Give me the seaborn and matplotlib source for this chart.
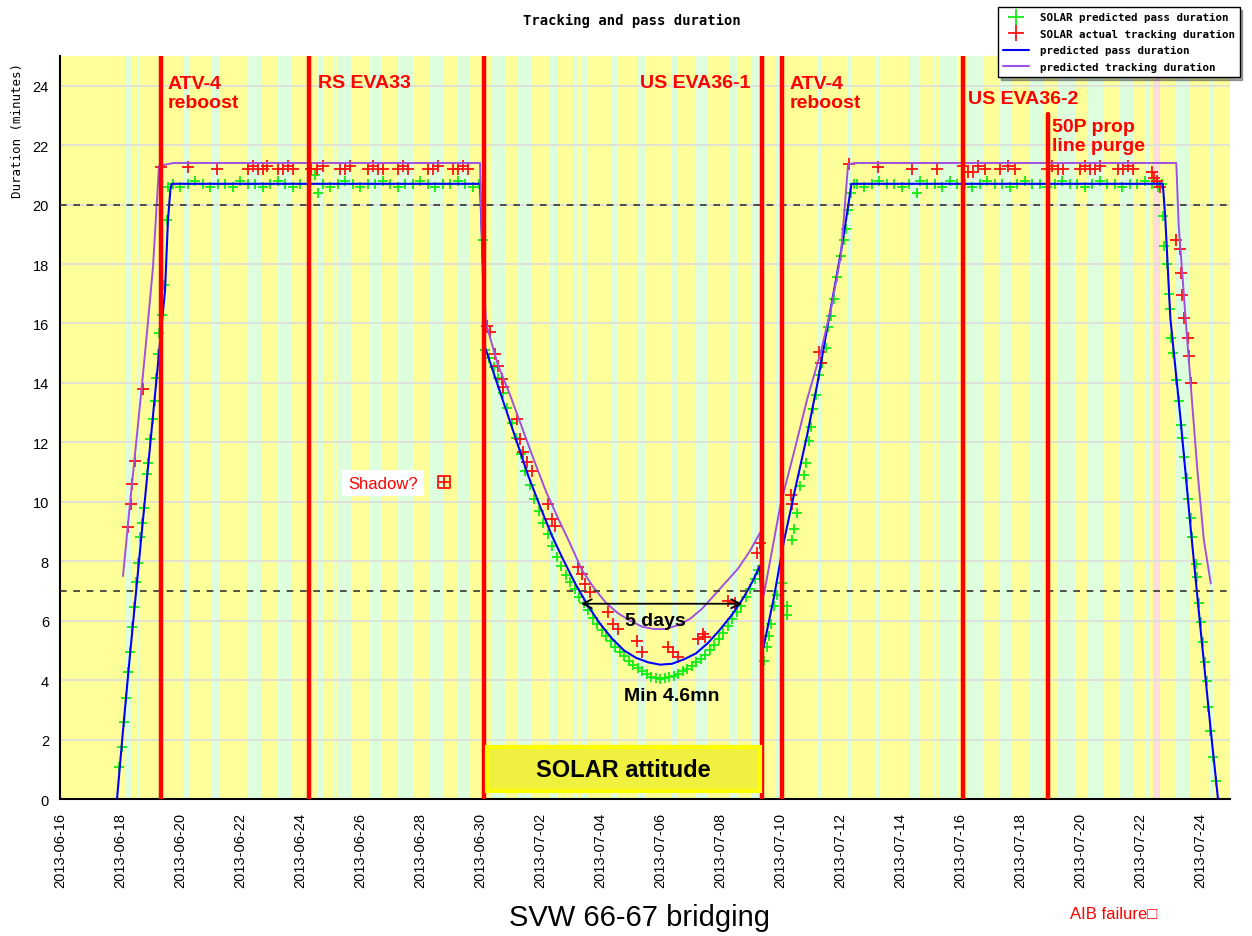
"""Tracking and pass duration - SOLAR attitude bridging (SVW 66-67)."""

import matplotlib

matplotlib.use("Agg")
import matplotlib.dates as mdates
import matplotlib.pyplot as plt
import numpy as np
import pandas as pd
import seaborn as sns
from matplotlib.lines import Line2D
from matplotlib.patches import Rectangle

# ---- data (days counted from 2013-06-16 00:00) ----
green_day = [
    1.98, 2.06, 2.12, 2.20, 2.26, 2.33, 2.40, 2.46, 2.52, 2.60, 2.66, 2.74, 2.80, 2.90, 2.94,
    3.00, 3.10, 3.17, 3.20, 3.25, 3.30, 3.40, 3.48, 3.55, 3.60,
    3.75, 4.00, 4.25, 4.50, 4.75, 5.00, 5.25, 5.50, 5.75, 6.00, 6.25, 6.50, 6.75, 7.00,
    7.25, 7.50, 7.75, 8.00, 8.25, 8.50, 8.60, 8.75, 9.00, 9.25, 9.50, 9.75, 10.00, 10.25,
    10.50, 10.75, 11.00, 11.25, 11.50, 11.75, 12.00, 12.25, 12.50, 12.75, 13.00, 13.25,
    13.50, 13.75, 13.95, 14.10,
    14.17, 14.30, 14.45, 14.60, 14.75, 14.90, 15.05, 15.20, 15.35, 15.50, 15.65, 15.80,
    15.95, 16.10, 16.25, 16.40, 16.55, 16.70, 16.85, 17.00, 17.15, 17.30, 17.45, 17.60,
    17.75, 17.90, 18.05, 18.20, 18.35, 18.50, 18.65, 18.80, 18.95, 19.10, 19.25, 19.40,
    19.55, 19.70, 19.85, 20.00, 20.15, 20.30, 20.45, 20.60, 20.75, 20.90, 21.05, 21.20,
    21.35, 21.50, 21.65, 21.80, 21.95, 22.10, 22.25, 22.40, 22.55, 22.70, 22.85, 23.00,
    23.15, 23.28,
    23.46, 23.55, 23.62, 23.70, 23.79, 23.90, 24.07, 24.24, 24.24, 24.41, 24.46, 24.57,
    24.68, 24.80, 24.85, 24.96, 25.02, 25.11, 25.19, 25.30, 25.41, 25.52, 25.60, 25.69,
    25.80, 25.91, 26.03, 26.14, 26.19, 26.25, 26.36, 26.45,
    26.55, 26.80, 27.05, 27.30, 27.55, 27.80, 28.05, 28.30, 28.55, 28.65, 28.90, 29.15,
    29.40, 29.65, 29.90, 30.15, 30.40, 30.65, 30.90, 31.15, 31.40, 31.65, 31.90, 32.15,
    32.40, 32.65, 32.90, 33.15, 33.40, 33.65, 33.90, 34.15, 34.40, 34.65, 34.90, 35.15,
    35.40, 35.65, 35.90, 36.15, 36.40, 36.60, 36.72,
    36.78, 36.80, 36.90, 36.96, 37.01, 37.04, 37.10, 37.21, 37.30, 37.35, 37.40, 37.46,
    37.55, 37.61, 37.69, 37.72, 37.85, 37.91, 37.97, 38.02, 38.10, 38.17, 38.22, 38.28,
    38.34, 38.42, 38.53,
]
green_val = [
    1.07, 1.74, 2.60, 3.40, 4.27, 4.95, 5.80, 6.47, 7.30, 7.94, 8.82, 9.27, 9.80, 10.95, 11.30,
    12.10, 12.80, 13.40, 14.15, 14.98, 15.69, 16.30, 17.28, 19.49, 20.60,
    20.7, 20.6, 20.7, 20.8, 20.7, 20.6, 20.7, 20.7, 20.6, 20.8, 20.7, 20.7, 20.6, 20.7,
    20.8, 20.7, 20.6, 20.7, 20.7, 21.0, 20.4, 20.7, 20.6, 20.7, 20.8, 20.7, 20.6, 20.7,
    20.7, 20.8, 20.7, 20.6, 20.7, 20.7, 20.8, 20.7, 20.6, 20.7, 20.7, 20.8,
    20.7, 20.6, 20.7, 18.8,
    15.10, 14.85, 14.55, 14.15, 13.65, 13.15, 12.65, 12.15, 11.60, 11.05, 10.55, 10.10,
    9.70, 9.30, 8.90, 8.50, 8.15, 7.85, 7.55, 7.30, 7.05, 6.80, 6.60, 6.35,
    6.10, 5.90, 5.70, 5.50, 5.30, 5.10, 4.95, 4.80, 4.65, 4.50, 4.40, 4.30,
    4.20, 4.12, 4.08, 4.05, 4.06, 4.10, 4.15, 4.22, 4.30, 4.38, 4.48, 4.60,
    4.72, 4.85, 5.00, 5.18, 5.38, 5.60, 5.82, 6.05, 6.28, 6.50, 6.78, 7.05,
    7.40, 7.70,
    4.66, 5.10, 5.48, 5.90, 6.50, 6.86, 7.28, 6.50, 6.20, 8.73, 9.09, 9.63,
    10.53, 10.89, 11.31, 12.03, 12.51, 13.11, 13.60, 14.25, 14.68, 15.16, 15.88, 16.24,
    16.84, 17.56, 18.28, 18.82, 19.18, 19.82, 20.38, 20.70,
    20.7, 20.6, 20.7, 20.8, 20.7, 20.7, 20.6, 20.7, 20.4, 20.8, 20.7, 20.7,
    20.6, 20.8, 20.7, 20.7, 20.6, 20.7, 20.8, 20.7, 20.7, 20.6, 20.7, 20.8,
    20.7, 20.7, 20.6, 20.7, 20.8, 20.7, 20.7, 20.6, 20.7, 20.8, 20.7, 20.7,
    20.6, 20.7, 20.7, 20.8, 20.7, 20.6, 20.7,
    19.60, 18.60, 18.00, 17.00, 16.50, 15.50, 15.00, 14.10, 13.40, 12.60, 12.15, 11.50,
    10.80, 10.10, 9.46, 8.82, 7.92, 7.47, 6.61, 5.95, 5.29, 4.62, 3.98, 3.10,
    2.28, 1.42, 0.61,
]

red_day = [
    2.28, 2.37, 2.41, 2.50, 2.78, 3.36,
    4.27, 5.23, 6.27, 6.43, 6.60, 6.77, 6.90, 7.27, 7.43, 7.60, 7.77, 8.37, 8.57, 8.77,
    9.33, 9.50, 9.67, 10.27, 10.43, 10.60, 10.77, 11.27, 11.43, 11.60, 12.27, 12.43, 12.60,
    13.10, 13.27, 13.43, 13.60,
    14.22, 14.33, 14.50, 14.61, 14.72, 14.78, 15.22, 15.33, 15.44, 15.56, 15.72, 16.28,
    16.39, 16.50, 17.28, 17.39, 17.50, 17.67, 18.28, 18.44, 18.61, 19.22, 19.39, 20.28,
    20.44, 20.61, 21.28, 21.44, 21.50, 22.28, 22.50, 23.22, 23.33,
    24.35, 24.41, 25.30, 25.35, 26.30,
    27.27, 28.40, 29.23, 30.10, 30.27, 30.43, 30.60, 30.83, 31.33, 31.60, 31.83, 32.90,
    33.07, 33.27, 33.43, 34.00, 34.17, 34.33, 34.50, 34.67, 35.27, 35.43, 35.60, 35.77,
    36.39, 36.45, 36.56, 36.67,
    37.21, 37.33, 37.35, 37.40, 37.48, 37.60, 37.63, 37.71,
]
red_val = [
    9.15, 9.93, 10.60, 11.38, 13.80, 21.27,
    21.25, 21.2, 21.2, 21.3, 21.2, 21.2, 21.3, 21.2, 21.2, 21.3, 21.2, 21.2, 21.2, 21.3,
    21.2, 21.2, 21.3, 21.2, 21.3, 21.2, 21.2, 21.2, 21.3, 21.2, 21.2, 21.2, 21.3,
    21.2, 21.2, 21.3, 21.2,
    15.93, 15.70, 14.97, 14.58, 14.13, 13.85, 12.79, 12.11, 11.66, 11.33, 11.05, 9.93,
    9.42, 9.20, 7.79, 7.57, 7.23, 6.95, 6.28, 5.89, 5.72, 5.33, 4.93, 5.10,
    4.93, 4.77, 5.38, 5.55, 5.45, 6.67, 6.61, 8.29, 8.63,
    10.23, 9.93, 15.04, 14.68, 21.35,
    21.25, 21.2, 21.2, 21.3, 21.1, 21.1, 21.3, 21.2, 21.2, 21.3, 21.2, 21.2,
    21.3, 21.2, 21.2, 21.2, 21.3, 21.2, 21.2, 21.3, 21.2, 21.2, 21.3, 21.2,
    21.1, 20.9, 20.8, 20.6,
    18.80, 18.50, 17.70, 16.95, 16.20, 15.50, 14.90, 14.00,
]

pass_day = [
    1.90, 2.10, 2.30, 2.50, 2.70, 2.90, 3.10, 3.30, 3.50, 3.60, 3.68, 3.72, 14.00, 14.05,
    14.17, 14.50, 14.80, 15.20, 15.60, 16.00, 16.40, 16.80, 17.20, 17.60, 18.00, 18.40,
    18.80, 19.20, 19.60, 20.00, 20.40, 20.80, 21.20, 21.60, 22.00, 22.40, 22.80, 23.10,
    23.33, 23.45, 23.80, 24.13, 24.50, 24.91, 25.25, 25.58, 26.03, 26.25, 26.38, 36.76,
    36.84, 37.01, 37.35, 37.69, 38.02, 38.36, 38.60,
]
pass_val = [
    0.0, 2.3, 4.5, 6.6, 8.7, 10.8, 12.9, 15.0, 17.1, 19.5, 20.5, 20.7, 20.7, 19.3,
    15.2, 14.2, 13.3, 12.1, 10.9, 9.85, 8.85, 8.0, 7.2, 6.5, 5.9, 5.4,
    5.0, 4.75, 4.6, 4.52, 4.55, 4.7, 4.9, 5.25, 5.7, 6.2, 6.8, 7.35,
    7.85, 5.1, 6.8, 8.67, 10.4, 12.27, 14.0, 15.88, 18.4, 19.8, 20.7, 20.7,
    19.6, 16.2, 12.8, 9.1, 5.7, 2.3, 0.0,
]

track_day = [
    2.10, 2.30, 2.50, 2.70, 2.90, 3.10, 3.30, 3.78, 14.00, 14.05,
    14.20, 14.60, 15.00, 15.40, 15.80, 16.20, 16.60, 17.00, 17.40, 17.80, 18.20, 18.60,
    19.00, 19.40, 19.80, 20.20, 20.60, 21.00, 21.40, 21.80, 22.20, 22.60, 23.00, 23.34,
    23.46, 24.01, 24.50, 24.91, 25.36, 25.70, 26.03, 26.27, 26.50, 37.21, 37.29, 37.57,
    37.91, 38.13, 38.36,
]
track_val = [
    7.5, 9.6, 11.6, 13.6, 15.7, 17.9, 21.3, 21.4, 21.4, 19.3,
    16.0, 14.6, 13.6, 12.5, 11.4, 10.35, 9.45, 8.6, 7.7, 7.1, 6.6, 6.25,
    6.0, 5.8, 5.72, 5.72, 5.85, 6.06, 6.4, 6.85, 7.3, 7.75, 8.35, 8.97,
    6.86, 9.87, 11.8, 13.47, 15.04, 16.5, 18.3, 21.35, 21.4, 21.4, 19.3, 15.5,
    11.1, 8.7, 7.25,
]

shadow_day = [12.8]
shadow_val = [10.67]

# event lines and how high each one reaches
event_day = [3.37, 8.30, 14.13, 23.40, 24.07, 30.10, 32.93]
event_top = [25, 25, 25, 25, 25, 25, 23.06]

# background stripes (visibility windows)
stripe_start = [
    2.17, 2.60, 4.10, 5.03, 6.27, 7.27, 8.57, 9.10, 9.27, 10.33, 11.27, 12.33, 13.27, 14.40,
    15.23, 16.30, 17.10, 17.40, 18.40, 19.23, 20.40, 21.17, 22.33, 23.07, 23.83, 25.27,
    26.27, 27.17, 28.30, 29.13, 29.33, 30.27, 31.30, 32.30, 33.27, 34.23, 35.33, 36.17,
    37.20, 38.33,
]
stripe_end = [
    2.40, 2.67, 4.33, 5.33, 6.73, 7.73, 8.80, 9.20, 9.70, 10.73, 11.77, 12.77, 13.67, 14.83,
    15.73, 16.60, 17.27, 17.60, 18.60, 19.50, 20.60, 21.57, 22.57, 23.37, 24.00, 25.40,
    26.40, 27.30, 28.63, 29.20, 29.90, 30.77, 31.73, 32.80, 33.83, 34.77, 35.80, 36.30,
    37.67, 38.43,
]
pink_start = [36.43]
pink_end = [36.67]

# ---- plotting ----
sns.set_style("white")
plt.rcParams["font.family"] = ["Liberation Sans", "DejaVu Sans"]
plt.rcParams["text.color"] = "black"
plt.rcParams["xtick.color"] = "black"
plt.rcParams["ytick.color"] = "black"
plt.rcParams["axes.labelcolor"] = "black"

t0 = mdates.date2num(pd.Timestamp("2013-06-16"))


def tx(days):
    return t0 + np.asarray(days, dtype=float)


fig = plt.figure(figsize=(12.52, 9.37), dpi=100)
ax = fig.add_axes([60 / 1252, 1 - 800 / 937, 1170 / 1252, 743 / 937])
ax.set_facecolor("#FFFF99")

for a, b in zip(stripe_start, stripe_end):
    ax.axvspan(tx(a), tx(b), color="#DDFFDD", lw=0, zorder=0)
for a, b in zip(pink_start, pink_end):
    ax.axvspan(tx(a), tx(b), color="#FFDDDD", lw=0, zorder=0)

for v in range(2, 26, 2):
    ax.axhline(v, color="#DDDDDD", lw=1.2, zorder=0.5)

sns.scatterplot(x=tx(green_day), y=green_val, marker="+", color="#11EE11", s=60,
                linewidth=1.3, ax=ax, zorder=3, legend=False)
sns.scatterplot(x=tx(red_day), y=red_val, marker="+", color="#FF1111", s=70,
                linewidth=1.3, ax=ax, zorder=3, legend=False)
sns.lineplot(x=tx(pass_day), y=pass_val, sort=False, estimator=None, color="#0000FF",
             lw=1.5, ax=ax, zorder=4)
sns.lineplot(x=tx(track_day), y=track_val, sort=False, estimator=None, color="#A050E0",
             lw=1.4, ax=ax, zorder=4)

for v in [7, 20]:
    ax.axhline(v, color="#333333", lw=1.2, ls=(0, (4, 4)), zorder=4.5)

for d, top in zip(event_day, event_top):
    ax.axvline(tx(d), ymin=0, ymax=top / 25, color="red", lw=3.2, zorder=5)

# shadow marker
sns.scatterplot(x=tx(shadow_day), y=shadow_val, marker="s", facecolor="none",
                edgecolor="red", s=70, linewidth=1.2, ax=ax, zorder=6, legend=False)
sns.scatterplot(x=tx(shadow_day), y=shadow_val, marker="+", color="red", s=60,
                linewidth=1.2, ax=ax, zorder=6, legend=False)

ax.set_xlim(tx(0), tx(39))
ax.set_ylim(0, 25)

ax.xaxis.set_major_locator(matplotlib.ticker.FixedLocator(tx(np.arange(0, 40, 2))))
ax.xaxis.set_minor_locator(matplotlib.ticker.FixedLocator(tx(np.arange(0, 40, 1))))
ax.xaxis.set_major_formatter(mdates.DateFormatter("%Y-%m-%d"))
ax.yaxis.set_major_locator(matplotlib.ticker.MultipleLocator(2))
ax.yaxis.set_minor_locator(matplotlib.ticker.MultipleLocator(1))
ax.tick_params(axis="x", which="both", direction="in", length=5, width=1.2,
               labelsize=10.5, labelrotation=90, pad=9)
ax.tick_params(axis="y", which="major", direction="in", length=7, width=1.2,
               labelsize=10.5, pad=8)
ax.tick_params(axis="y", which="minor", direction="in", length=3, width=1.2)
ax.set_xlabel("")
ax.set_ylabel("")
for side in ["top", "right"]:
    ax.spines[side].set_visible(False)
for side in ["left", "bottom"]:
    ax.spines[side].set_color("black")
    ax.spines[side].set_linewidth(1.5)

# event labels
red_kw = dict(color="red", fontsize=14, fontweight="bold", va="top", ha="left",
              linespacing=1.15, zorder=7)
ax.text(tx(3.6), 24.35, "ATV-4\nreboost", **red_kw)
ax.text(tx(8.6), 24.4, "RS EVA33", **red_kw)
ax.text(tx(19.35), 24.4, "US EVA36-1", **red_kw)
ax.text(tx(24.33), 24.35, "ATV-4\nreboost", **red_kw)
ax.text(tx(30.27), 23.85, "US EVA36-2", **red_kw)
ax.text(tx(33.07), 22.9, "50P prop\nline purge", **red_kw)

ax.text(tx(10.77), 10.63, "Shadow?", color="red", fontsize=12, ha="center", va="center",
        zorder=7, bbox=dict(boxstyle="square,pad=0.35", fc="white", ec="none"))

ax.annotate("", xy=(tx(22.83), 6.57), xytext=(tx(17.27), 6.57),
            arrowprops=dict(arrowstyle="<->", color="black", lw=1.3, mutation_scale=16),
            zorder=7)
ax.text(tx(19.85), 6.0, "5 days", color="black", fontsize=14, fontweight="bold",
        ha="center", va="center", zorder=7)
ax.text(tx(20.4), 3.47, "Min 4.6mn", color="black", fontsize=14, fontweight="bold",
        ha="center", va="center", zorder=7)

ax.add_patch(Rectangle((tx(14.23), 0.27), 9.1, 1.48, facecolor="#F0F040",
                       edgecolor="#FFFF00", lw=3, zorder=6))
ax.text(tx(18.78), 1.0, "SOLAR attitude", color="black", fontsize=17, fontweight="bold",
        ha="center", va="center", zorder=7)

# titles and outer labels
fig.text(0.505, 0.978, "Tracking and pass duration", family="DejaVu Sans Mono",
         fontsize=10, fontweight="bold", ha="center", va="center", color="black")
fig.text(18 / 1252, 1 - 130 / 937, "Duration (minutes)", family="DejaVu Sans Mono",
         fontsize=9, rotation=90, ha="center", va="center", color="black")
fig.text(0.511, 0.02, "SVW 66-67 bridging", fontsize=21, ha="center", va="center",
         color="black")
fig.text(1070 / 1252, 0.0235, "AIB failure\u25a1", color="red", fontsize=12,
         ha="left", va="center", family=["Liberation Sans", "DejaVu Sans"])

handles = [
    Line2D([], [], ls="", marker="+", color="#11EE11", ms=11, mew=1.3),
    Line2D([], [], ls="", marker="+", color="#FF1111", ms=11, mew=1.3),
    Line2D([], [], color="#0000FF", lw=1.5),
    Line2D([], [], color="#A050E0", lw=1.5),
]
labels = [
    "SOLAR predicted pass duration",
    "SOLAR actual tracking duration",
    "predicted pass duration",
    "predicted tracking duration",
]
leg = fig.legend(handles, labels, loc="upper right", bbox_to_anchor=(1245 / 1252, 1 - 3 / 937),
                 prop=dict(family="DejaVu Sans Mono", size=7.8, weight="bold"),
                 frameon=True, fancybox=False, shadow=True, edgecolor="black",
                 borderpad=0.45, labelspacing=0.6, handlelength=2.4, handletextpad=1.0)
leg.get_frame().set_linewidth(1.0)
for t in leg.get_texts():
    t.set_color("black")

fig.savefig("out.png", dpi=100)
